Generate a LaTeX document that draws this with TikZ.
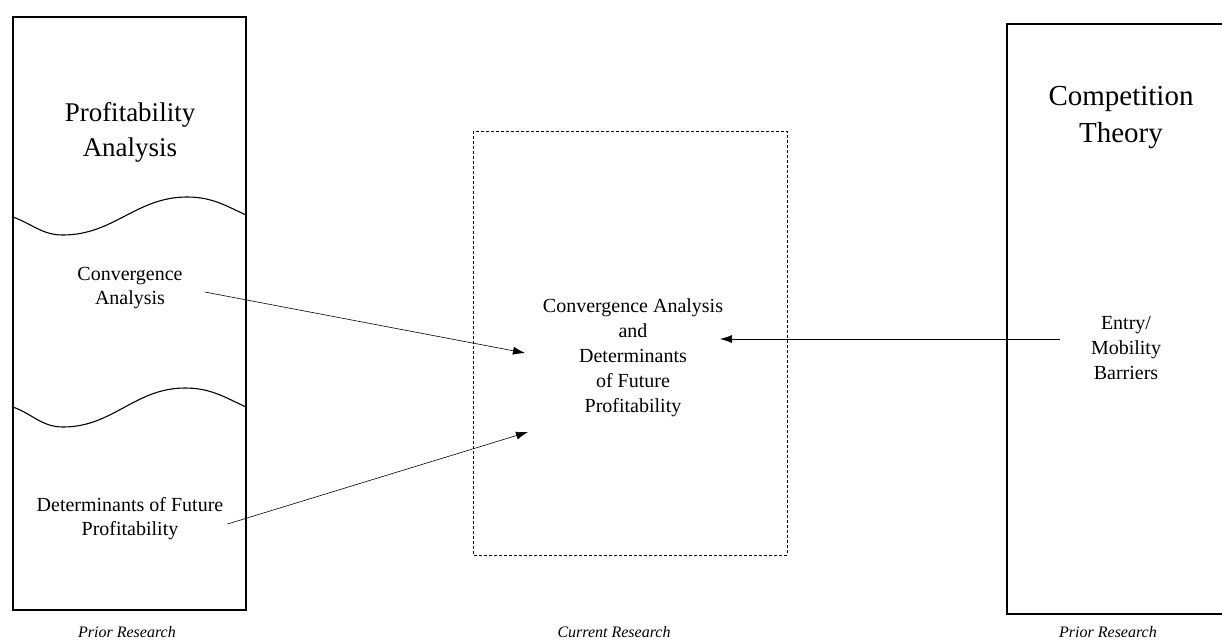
\documentclass[tikz,border=0pt]{standalone}
\usepackage{fontspec}
\setmainfont{Liberation Serif}
\usetikzlibrary{arrows.meta}

\tikzset{
	boxline/.style={line width=1.6pt},
	txt/.style={align=center, font=\fontsize{20}{24}\selectfont, inner sep=0pt},
	bigtxt/.style={align=center, inner sep=0pt},
	foot/.style={font=\fontsize{16}{18}\selectfont\itshape, inner sep=0pt},
	link/.style={line width=0.6pt, -{Latex[length=12pt,width=8pt]}}
}

\begin{document}
\begin{tikzpicture}[x=1pt, y=-1pt]
	\useasboundingbox (0,0) rectangle (1222,643);
	\clip (0,0) rectangle (1222,643);

	% prior research, left
	\draw[boxline] (13,17) rectangle (246,610);
	\draw[line width=1.1pt] (13,217) to[out=-20,in=180] (63,235) to[out=0,in=180] (187,197) to[out=0,in=155] (246,215);
	\draw[line width=1.1pt] (13,407) to[out=-20,in=180] (63,427) to[out=0,in=180] (185,388) to[out=0,in=155] (246,407);

	\node[bigtxt, font=\fontsize{27}{35}\selectfont] (profit) at (130,132) {Profitability\\Analysis};
	\node[txt] (conv) at (130,288) {Convergence\\Analysis};
	\node[txt] (determ) at (130,519) {Determinants of Future\\Profitability};
	\node[foot] (priorl) at (127,632) {Prior Research};

	% current research
	\draw[dashed, dash pattern=on 3pt off 2pt, line width=0.7pt] (473,131) rectangle (787,555);
	\node[txt, font=\fontsize{20}{25}\selectfont] (current) at (633,358) {Convergence Analysis\\and\\Determinants\\of Future\\Profitability};
	\node[foot] (curfoot) at (614,632) {Current Research};

	% prior research, right
	\draw[boxline] (1007,24) rectangle (1240,614);
	\node[bigtxt, font=\fontsize{29}{37}\selectfont] (compet) at (1121,118) {Competition\\Theory};
	\node[txt, font=\fontsize{20}{25}\selectfont] (entry) at (1126,348) {Entry/\\Mobility\\Barriers};
	\node[foot] (priorr) at (1108,632) {Prior Research};

	\coordinate (inA) at (525,353);
	\coordinate (inB) at (528,432);
	\coordinate (inC) at (720,339);
	\coordinate (outC) at (1060,339);

	\draw[link] (conv.east) ++(22,4) -- (inA);
	\draw[link] (determ.east) ++(4,5) -- (inB);
	\draw[link] (outC) -- (inC);

\end{tikzpicture}
\end{document}
